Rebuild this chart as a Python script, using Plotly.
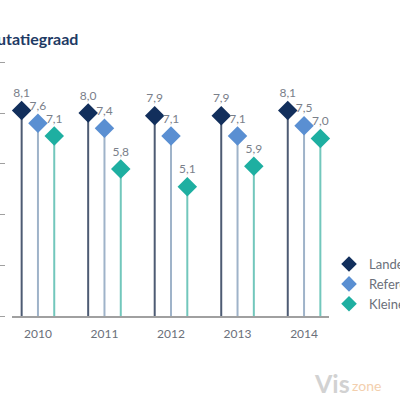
import plotly.graph_objects as go

years = [2010, 2011, 2012, 2013, 2014]
series_names = ["Landelijk", "Referentiegroep", "Kleine N"]
landelijk = [8.1, 8.0, 7.9, 7.9, 8.1]
referentie = [7.6, 7.4, 7.1, 7.1, 7.5]
kleine = [7.1, 5.8, 5.1, 5.9, 7.0]
y_ticks = [0, 2, 4, 6, 8, 10]

marker_colors = ["#122f5c", "#5a8fd2", "#1eafa1"]
stem_colors = ["#4d5b73", "#9fb3c9", "#72c7bc"]
offsets = [-0.245, 0.0, 0.245]

fig = go.Figure()
for name, vals, mc, sc, off in zip(series_names, [landelijk, referentie, kleine],
                                    marker_colors, stem_colors, offsets):
    fig.add_trace(go.Scatter(
        x=[y + off for y in years], y=vals, name=name,
        mode="markers+text",
        marker=dict(symbol="diamond", size=15, color=mc),
        text=vals, texttemplate="%{y:.1f}", textposition="top center",
        textfont=dict(family="Lato", size=12, color="#7a808a"),
        error_y=dict(type="data", symmetric=False, array=[0] * len(vals),
                     arrayminus=vals, width=0, thickness=2, color=sc),
        cliponaxis=False,
    ))

fig.update_layout(
    width=400, height=400,
    margin=dict(l=5, r=70, t=37, b=84, autoexpand=False),
    paper_bgcolor="white", plot_bgcolor="white",
    separators=",.",
    font=dict(family="Lato", color="#6b707a"),
    showlegend=True,
    legend=dict(x=0.997, xanchor="left", y=0.24, yanchor="top",
                font=dict(size=13, color="#6b707a"), tracegroupgap=0,
                itemsizing="constant"),
    xaxis=dict(domain=[7 / 325, 1], range=[2009.61, 2014.39],
               tickmode="array", tickvals=years, ticktext=[str(y) for y in years],
               showline=True, linecolor="#a0a0a0", linewidth=1.5,
               showgrid=False, zeroline=False, ticks="", ticklabelstandoff=6,
               tickfont=dict(size=12, color="#6b707a")),
    yaxis=dict(range=[0, 11], anchor="free", position=0,
               tickvals=y_ticks, ticks="outside", ticklen=5, tickcolor="#a0a0a0",
               showticklabels=False,
               showgrid=False, zeroline=False, showline=False),
    annotations=[
        dict(text="<b>Mutatiegraad</b>", xref="paper", yref="paper",
             x=-0.077, y=0.993, xanchor="left", yanchor="middle", showarrow=False,
             font=dict(family="Lato", size=16, color="#1e3a64")),
        dict(text="<b>Vis</b>", xref="paper", yref="paper", x=0.945, y=-0.24,
             xanchor="left", yanchor="middle", showarrow=False,
             font=dict(family="Lato", size=25, color="#d2d2d2")),
        dict(text="zone", xref="paper", yref="paper", x=1.06, y=-0.25,
             xanchor="left", yanchor="middle", showarrow=False,
             font=dict(family="Lato", size=14, color="#f3cfae")),
    ],
)

fig.write_html("out.html", config={"displayModeBar": False},
               post_script="document.body.style.margin='0px';")
